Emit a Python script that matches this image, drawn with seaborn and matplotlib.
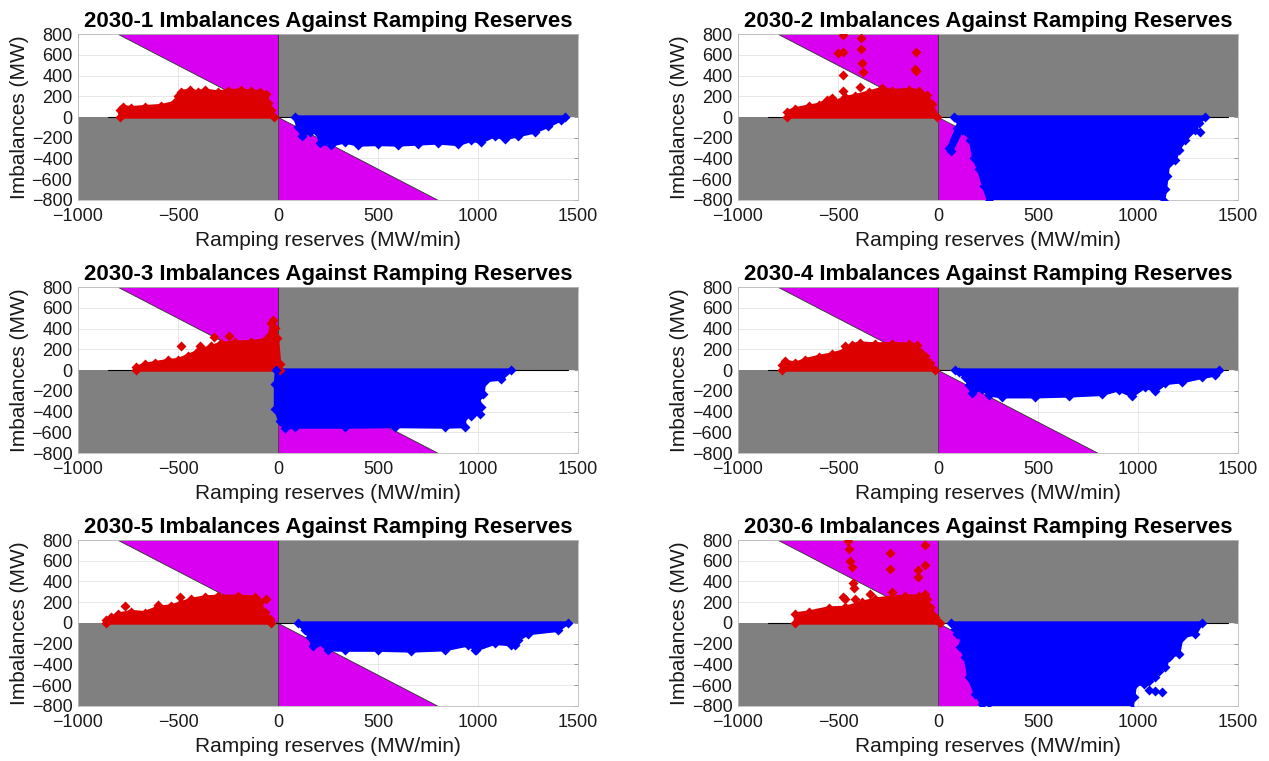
import matplotlib
matplotlib.use("Agg")
import matplotlib.pyplot as plt
import seaborn as sns
import pandas as pd

# ── Axis setup ────────────────────────────────────────────────────────────────
XLIM = (-1000, 1500)
YLIM = (-800, 800)
XTICKS = [-1000, -500, 0, 500, 1000, 1500]
YTICKS = [-800, -600, -400, -200, 0, 200, 400, 600, 800]
ZERO_LINE_X = [-850, 1450]

TITLES = [
    "2030-1 Imbalances Against Ramping Reserves",
    "2030-2 Imbalances Against Ramping Reserves",
    "2030-3 Imbalances Against Ramping Reserves",
    "2030-4 Imbalances Against Ramping Reserves",
    "2030-5 Imbalances Against Ramping Reserves",
    "2030-6 Imbalances Against Ramping Reserves",
]
XLABEL = "Ramping reserves (MW/min)"
YLABEL = "Imbalances (MW)"

# ── Point clouds (outline, closed along y = 0) ────────────────────────────────
RED_X_1 = [-790, -792, -775, -733, -667, -583, -517, -500, -483, -442, -400, -367, -300, -250, -183, -133, -92, -58, -50, -33, -20]
RED_Y_1 = [0, 65, 100, 90, 100, 110, 140, 200, 245, 260, 240, 260, 240, 255, 260, 250, 245, 220, 135, 70, 0]
RED_OX_1 = []
RED_OY_1 = []
BLUE_X_1 = [83, 100, 120, 160, 200, 210, 267, 333, 400, 500, 600, 700, 800, 900, 967, 1017, 1083, 1133, 1200, 1283, 1350, 1417, 1433]
BLUE_Y_1 = [0, -100, -185, -140, -150, -255, -270, -240, -270, -265, -270, -260, -250, -265, -225, -240, -180, -210, -180, -145, -90, -25, 0]
BLUE_OX_1 = []
BLUE_OY_1 = []

RED_X_2 = [-755, -755, -713, -647, -597, -555, -513, -463, -413, -347, -280, -230, -147, -97, -55, -30, -5]
RED_Y_2 = [0, 50, 80, 105, 120, 160, 145, 190, 205, 240, 275, 255, 265, 255, 210, 130, 0]
RED_OX_2 = [-477, -477, -500, -383, -383, -380, -375, -477, -477, -108, -117, -110, -530, -388, -540]
RED_OY_2 = [790, 630, 614, 758, 656, 518, 438, 406, 246, 630, 461, 448, 182, 290, 165]
BLUE_X_2 = [78, 107, 95, 53, 67, 120, 137, 162, 178, 203, 228, 253, 1128, 1137, 1145, 1153, 1187, 1203, 1237, 1287, 1303, 1337]
BLUE_Y_2 = [0, -42, -106, -298, -330, -122, -138, -218, -394, -506, -666, -810, -810, -698, -570, -442, -410, -314, -218, -122, -58, 0]
BLUE_OX_2 = [1312]
BLUE_OY_2 = [-147]

RED_X_3 = [-708, -708, -667, -617, -550, -500, -450, -400, -333, -283, -217, -133, -67, -42, -33, -25, -17, -3, 8, 8]
RED_Y_3 = [0, 26, 55, 70, 92, 100, 140, 180, 228, 258, 268, 275, 290, 340, 450, 480, 405, 310, 58, 0]
RED_OX_3 = [-487, -392, -320, -247]
RED_OY_3 = [235, 235, 322, 332]
BLUE_X_3 = [-8, -13, -13, 8, 33, 83, 333, 583, 833, 933, 933, 967, 1008, 1017, 1000, 1025, 1033, 1117, 1167]
BLUE_Y_3 = [0, -135, -377, -489, -560, -550, -550, -545, -550, -545, -441, -441, -420, -360, -264, -232, -103, -87, 0]
BLUE_OX_3 = []
BLUE_OY_3 = []

RED_X_4 = [-780, -780, -763, -713, -663, -597, -530, -463, -430, -388, -313, -230, -147, -105, -88, -63, -38, -17]
RED_Y_4 = [0, 48, 85, 65, 100, 130, 155, 190, 245, 260, 252, 255, 250, 240, 175, 140, 65, 0]
RED_OX_4 = [-463]
RED_OY_4 = [235]
BLUE_X_4 = [87, 103, 137, 153, 170, 220, 253, 320, 487, 653, 820, 903, 970, 1037, 1087, 1137, 1220, 1320, 1387, 1403]
BLUE_Y_4 = [0, -16, -65, -145, -220, -178, -240, -258, -258, -250, -235, -190, -250, -160, -205, -129, -113, -71, -48, 0]
BLUE_OX_4 = []
BLUE_OY_4 = []

RED_X_5 = [-858, -858, -833, -800, -733, -667, -600, -533, -483, -433, -367, -300, -200, -117, -92, -67, -42, -33]
RED_Y_5 = [0, 26, 55, 85, 110, 100, 150, 165, 195, 228, 250, 258, 258, 250, 200, 106, 42, 0]
RED_OX_5 = [-763, -600, -492, -58]
RED_OY_5 = [161, 171, 251, 232]
BLUE_X_5 = [100, 133, 158, 175, 200, 250, 333, 500, 667, 833, 950, 992, 1083, 1167, 1200, 1250, 1400, 1450]
BLUE_Y_5 = [0, -71, -135, -225, -184, -258, -262, -262, -270, -258, -212, -258, -196, -210, -165, -103, -71, 0]
BLUE_OX_5 = [983, 1183]
BLUE_OY_5 = [-262, -216]

RED_X_6 = [-713, -713, -647, -547, -463, -380, -313, -230, -163, -97, -55, -38, -13, 12]
RED_Y_6 = [0, 88, 105, 145, 150, 198, 230, 250, 260, 260, 230, 155, 58, 0]
RED_OX_6 = [-450, -443, -438, -430, -427, -418, -477, -463, -413, -338, -242, -242, -230, -67, -67, -100, -100, -63]
RED_OY_6 = [795, 711, 601, 536, 388, 342, 252, 236, 236, 284, 672, 523, 300, 753, 559, 510, 446, 284]
BLUE_X_6 = [67, 87, 95, 120, 112, 137, 153, 187, 220, 253, 970, 978, 987, 1028, 1053, 1087, 1103, 1137, 1153, 1203, 1220, 1287, 1320]
BLUE_Y_6 = [0, -55, -103, -136, -233, -330, -523, -685, -782, -830, -830, -717, -588, -588, -556, -523, -459, -426, -330, -297, -136, -103, 0]
BLUE_OX_6 = [1053, 1087, 1120]
BLUE_OY_6 = [-650, -660, -670]

PANELS = [
    (RED_X_1, RED_Y_1, RED_OX_1, RED_OY_1, BLUE_X_1, BLUE_Y_1, BLUE_OX_1, BLUE_OY_1),
    (RED_X_2, RED_Y_2, RED_OX_2, RED_OY_2, BLUE_X_2, BLUE_Y_2, BLUE_OX_2, BLUE_OY_2),
    (RED_X_3, RED_Y_3, RED_OX_3, RED_OY_3, BLUE_X_3, BLUE_Y_3, BLUE_OX_3, BLUE_OY_3),
    (RED_X_4, RED_Y_4, RED_OX_4, RED_OY_4, BLUE_X_4, BLUE_Y_4, BLUE_OX_4, BLUE_OY_4),
    (RED_X_5, RED_Y_5, RED_OX_5, RED_OY_5, BLUE_X_5, BLUE_Y_5, BLUE_OX_5, BLUE_OY_5),
    (RED_X_6, RED_Y_6, RED_OX_6, RED_OY_6, BLUE_X_6, BLUE_Y_6, BLUE_OX_6, BLUE_OY_6),
]

GRAY = "#808080"
MAGENTA = "#D900F2"
RED = "#DD0000"
BLUE = "#0000FF"


def draw_cloud(ax, xs, ys, ox, oy, color):
    ax.fill(xs, ys, facecolor=color, edgecolor=color, lw=2.4,
            joinstyle="round", zorder=3)
    pts = pd.DataFrame({"x": list(xs) + list(ox), "y": list(ys) + list(oy)})
    sns.scatterplot(data=pts, x="x", y="y", marker="D", s=26, color=color,
                    edgecolor=color, linewidth=0, ax=ax, zorder=4, legend=False)


def draw_panel(ax, title, panel):
    red_x, red_y, red_ox, red_oy, blue_x, blue_y, blue_ox, blue_oy = panel
    x0, x1 = XLIM
    y0, y1 = YLIM

    # quadrant shading
    ax.fill([0, x1, x1, 0], [0, 0, y1, y1], color=GRAY, lw=0, zorder=1)
    ax.fill([x0, 0, 0, x0], [y0, y0, 0, 0], color=GRAY, lw=0, zorder=1)
    ax.fill([0, 0, -y1], [0, y1, y1], facecolor=MAGENTA, edgecolor="#333333",
            lw=0.6, zorder=1)
    ax.fill([0, 0, -y0], [0, y0, y0], facecolor=MAGENTA, edgecolor="#333333",
            lw=0.6, zorder=1)
    ax.plot(ZERO_LINE_X, [0, 0], color="black", lw=0.8, zorder=2)

    draw_cloud(ax, red_x, red_y, red_ox, red_oy, RED)
    draw_cloud(ax, blue_x, blue_y, blue_ox, blue_oy, BLUE)

    ax.set_xlim(XLIM)
    ax.set_ylim(YLIM)
    ax.set_xticks(XTICKS)
    ax.set_yticks(YTICKS)
    ax.grid(True, color="#E3E3E3", lw=0.6)
    ax.set_axisbelow(True)
    ax.tick_params(direction="in", length=3, width=0.5, color="#777777",
                   labelsize=13, labelcolor="#1A1A1A", top=True, right=True)
    ax.tick_params(axis="x", pad=6)
    ax.tick_params(axis="y", pad=4)
    for sp in ax.spines.values():
        sp.set_color("#BBBBBB")
        sp.set_linewidth(0.6)
    ax.set_title(title, fontsize=16, fontweight="bold", pad=5, color="black")
    ax.set_xlabel(XLABEL, fontsize=15, labelpad=4, color="#1A1A1A")
    ax.set_ylabel(YLABEL, fontsize=15, labelpad=2, color="#1A1A1A")


sns.set_style("white")
plt.rcParams["font.family"] = ["Liberation Sans", "DejaVu Sans"]

fig = plt.figure(figsize=(12.69, 7.61), dpi=100)
lefts = [0.0615, 0.5816]
bottoms = [0.7372, 0.4047, 0.0723]
for i, panel in enumerate(PANELS):
    row, col = divmod(i, 2)
    ax = fig.add_axes([lefts[col], bottoms[row], 0.394, 0.2181])
    draw_panel(ax, TITLES[i], panel)

fig.savefig("out.png", dpi=100)
